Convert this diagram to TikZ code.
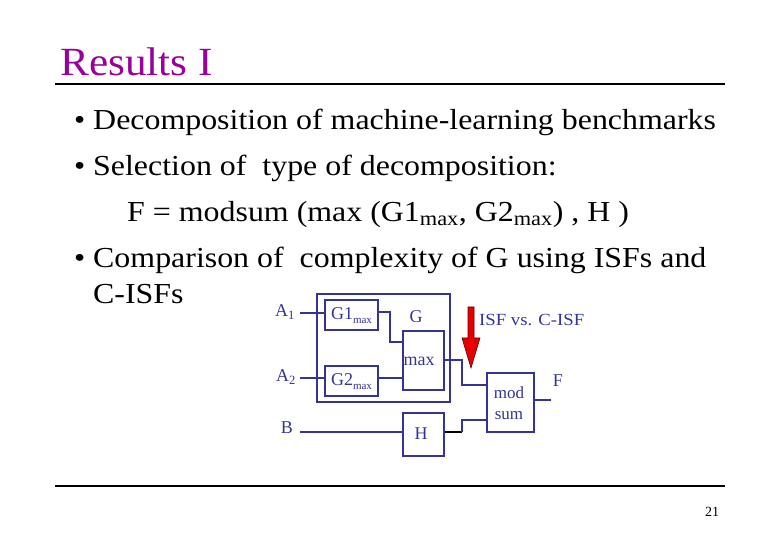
\documentclass[tikz,border=0pt]{standalone}
\usepackage{fontspec}
\setmainfont{Liberation Serif}
\usetikzlibrary{arrows.meta}
\definecolor{navy}{RGB}{51,51,153}
\definecolor{titlec}{RGB}{153,0,153}
\begin{document}
\begin{tikzpicture}[x=1pt,y=-1pt,
 blk/.style={draw=navy,line width=1.6pt,inner sep=0pt},
 wire/.style={draw=navy,line width=1.6pt},
 lbl/.style={text=navy,font=\fontsize{18}{20}\selectfont,inner sep=0pt},
 btxt/.style={anchor=base west,inner sep=0pt,font=\fontsize{29}{32}\selectfont,xscale=1.1}]
\useasboundingbox (0,0) rectangle (780,540);
\node[anchor=base west,inner sep=0pt,text=titlec,font=\fontsize{40}{44}\selectfont,xscale=1.08] (title) at (60,76) {Results I};
\draw[line width=1.2pt] (55,84) -- (725,84);
\draw[line width=1.2pt] (55,486) -- (725,486);
\node[anchor=base,inner sep=0pt,font=\fontsize{14}{14}\selectfont] (pg) at (712,516) {21};
\node[btxt] (b1) at (74,130) {•};
\node[btxt] (t1) at (93,130) {Decomposition of machine-learning benchmarks};
\node[btxt] (b2) at (74,176) {•};
\node[btxt] (t2) at (93,176) {Selection of\ \ type of decomposition:};
\node[btxt] (t3) at (127,222) {F = modsum (max (G1\textsubscript{max}, G2\textsubscript{max}) , H )};
\node[btxt] (b3) at (74,268) {•};
\node[btxt] (t4) at (93,268) {Comparison of\ \ complexity of G using ISFs and};
\node[btxt] (t5) at (93,304) {C-ISFs};
% boxes
\draw[blk] (317,294) rectangle (450,402);
\node[blk,minimum width=53pt,minimum height=30pt] (g1) at (351.5,315) {};
\node[lbl] at (351.5,316) {G1{\fontsize{11}{11}\selectfont\raisebox{-4pt}{max}}};
\node[blk,minimum width=53pt,minimum height=30pt] (g2) at (351.5,381) {};
\node[lbl] at (351.5,382) {G2{\fontsize{11}{11}\selectfont\raisebox{-4pt}{max}}};
\node[blk,minimum width=41pt,minimum height=59pt] (mx) at (423.5,360.5) {};
\node[lbl] at (419,361) {max};
\node[blk,minimum width=41pt,minimum height=43pt] (h) at (423.5,434.5) {};
\node[lbl] at (421,434) {H};
\node[blk,minimum width=47pt,minimum height=59pt] (ms) at (510.5,402.5) {};
\node[lbl,align=center,font=\fontsize{17}{21}\selectfont] at (509,403) {mod\\sum};
% labels
\node[lbl] (a1) at (285,312) {A\textsubscript{1}};
\node[lbl] (a2) at (286,377) {A\textsubscript{2}};
\node[lbl] (bb) at (287,428) {B};
\node[lbl] (gl) at (416,317) {G};
\node[lbl] (f) at (558,381) {F};
\node[lbl,anchor=west,font=\fontsize{17}{18}\selectfont,xscale=1.1] (isf) at (479,320) {ISF vs. C-ISF};
% wires
\draw[wire] (300,313) -- (g1.west|-0,313);
\draw[wire] (300,378) -- (g2.west|-0,378);
\draw[wire] (300,432) -- (h.west|-0,432);
\draw[wire] (g1.east|-0,312) -- (390,312) -- (390,342) -- (mx.west|-0,342);
\draw[wire] (g2.east|-0,378) -- (mx.west|-0,378);
\draw[wire] (mx.east|-0,360) -- (462,360) -- (462,385) -- (ms.west|-0,385);
\draw[line width=1.6pt,black] (h.east|-0,432) -- (462,432);
\draw[wire] (462,432) -- (462,420) -- (ms.west|-0,420);
\draw[wire] (ms.east|-0,400) -- (551,400);
% arrow
\fill[red!90!black,draw=black!60!red,line width=0.6pt] (468,307) -- (474,307) -- (474,338) -- (480,338) -- (471,368) -- (462,338) -- (468,338) -- cycle;
\end{tikzpicture}
\end{document}
